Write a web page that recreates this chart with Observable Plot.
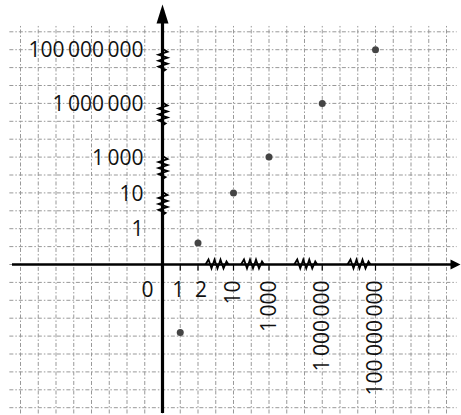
<!DOCTYPE html>
<html><head><meta charset="utf-8">
<script src="https://cdn.jsdelivr.net/npm/d3@7"></script>
<script src="https://cdn.jsdelivr.net/npm/@observablehq/plot@0.6"></script>
<style>
body{margin:0;background:#fff}
#chart{position:relative;width:461px;height:415px}
#chart svg{position:absolute;left:0;top:0;background:transparent}
</style></head><body><div id="chart"></div>
<script>
// ---- data ----
const xTickValues = [0, 1, 2, 10, 1000, 1000000, 100000000];
const yTickValues = [1, 10, 1000, 1000000, 100000000];
const pointX = [1, 2, 10, 1000, 1000000, 100000000];
const pointY = [-1.9, 0.6, 10, 1000, 1000000, 100000000];
const breakBefore = [10, 1000, 1000000, 100000000];

// ---- layout ----
const W = 461, H = 415, OX = 162, OY = 264, GX = 17.75, GY = 17.9;
const xSlots = [0, 1, 2, 4, 6, 9, 12];
const ySlots = [0, 2, 4, 6, 9, 12];
const fmt = v => d3.format(",")(v).replace(/,/g, "\u2009");
const FONT = "Open Sans, Liberation Sans, sans-serif";

const points = pointX.map((x, i) => ({x, y: pointY[i]}));

// custom symbols
const poly = pts => ({draw(ctx) { ctx.moveTo(...pts[0]); for (const p of pts.slice(1)) ctx.lineTo(...p); }});
const zigH = poly([[-12,0],[-9,-5],[-6,4],[-3,-5],[0,4],[3,-5],[6,4],[9,-3],[11,0]]);
const zigV = poly([[0,-12],[5,-9],[-4,-6],[5,-3],[-4,0],[5,3],[-4,6],[3,9],[0,11]]);
const tickDown = poly([[0,0],[0,6]]);
const arrowUp = {draw(ctx){ ctx.moveTo(0,4); ctx.lineTo(6,23); ctx.lineTo(-6,23); ctx.closePath(); }};
const arrowRight = {draw(ctx){ ctx.moveTo(-1,0); ctx.lineTo(-11,-5); ctx.lineTo(-11,5); ctx.closePath(); }};

// ---- graph paper ----
const grid = Plot.plot({
  width: W, height: H, margin: 0,
  style: {background: "transparent"},
  x: {domain: [-OX / GX, (W - OX) / GX], axis: null},
  y: {domain: [(OY - H) / GY, OY / GY], axis: null},
  marks: [
    Plot.ruleX(d3.range(-8, 17), {y1: -8.35, y2: 13.3, stroke: "#999", strokeWidth: 1, strokeDasharray: "4,2,1.5,2"}),
    Plot.ruleY(d3.range(-8, 14), {x1: -8.6, x2: 16.6, stroke: "#999", strokeWidth: 1, strokeDasharray: "4,2,1.5,2"})
  ]
});

// ---- main chart ----
const chart = Plot.plot({
  width: W, height: H, margin: 0,
  style: {background: "transparent", fontFamily: FONT},
  x: {type: "linear", domain: xTickValues, range: xSlots.map(s => OX + GX * s), axis: null},
  y: {type: "linear", domain: [0, ...yTickValues], range: ySlots.map(s => OY - GY * s), axis: null},
  marks: [
    Plot.ruleY([0], {stroke: "#000", strokeWidth: 2.5, insetLeft: 12, insetRight: 6}),
    Plot.ruleX([0], {stroke: "#000", strokeWidth: 3.2, insetTop: 10, insetBottom: 2}),
    Plot.dot([0], {x: d => d, frameAnchor: "top", symbol: arrowUp, fill: "#000", stroke: null}),
    Plot.dot([0], {y: d => d, frameAnchor: "right", symbol: arrowRight, fill: "#000", stroke: null}),
    Plot.dot(breakBefore, {x: d => d, y: () => 0, dx: -16, symbol: zigH, fill: "none", stroke: "#000", strokeWidth: 1.8}),
    Plot.dot(breakBefore, {x: () => 0, y: d => d, dy: 11, symbol: zigV, fill: "none", stroke: "#000", strokeWidth: 1.8}),
    Plot.dot(xTickValues.slice(1), {x: d => d, y: () => 0, symbol: tickDown, fill: "none", stroke: "#000", strokeWidth: 1.2}),
    Plot.text(yTickValues, {x: () => 0, y: d => d, text: fmt, textAnchor: "end", dx: -19, dy: 1, fontSize: 21, fill: "#111"}),
    Plot.text(xTickValues.filter(v => v === 0), {x: d => d, y: () => 0, text: fmt, dx: -15, dy: 26, fontSize: 21, fill: "#111"}),
    Plot.text(xTickValues.filter(v => v === 1), {x: d => d, y: () => 0, text: fmt, dx: -2, dy: 26, fontSize: 21, fill: "#111"}),
    Plot.text(xTickValues.filter(v => v === 2), {x: d => d, y: () => 0, text: fmt, dx: 3, dy: 26, fontSize: 21, fill: "#111"}),
    Plot.text(xTickValues.filter(v => v >= 10), {x: d => d, y: () => 0, text: fmt, rotate: -90, textAnchor: "end", lineAnchor: "middle", dy: 16, fontSize: 21, fill: "#111"}),
    Plot.dot(points, {x: "x", y: "y", r: 3.5, fill: "#444", stroke: null})
  ]
});

const el = document.getElementById("chart");
el.append(grid, chart);
</script></body></html>
